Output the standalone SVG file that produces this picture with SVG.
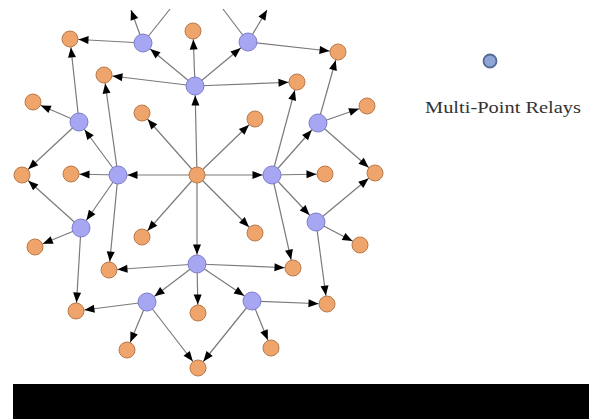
<svg xmlns="http://www.w3.org/2000/svg" width="589" height="419" viewBox="0 0 589 419">
<style>
.e{stroke:#7a7a7a;stroke-width:1.2;fill:none}
.to{marker-end:url(#aO)}
.tb{marker-end:url(#aB)}
.tx{marker-end:url(#aX)}
.o{fill:#efa46c;stroke:#b97a4c;stroke-width:1}
.b{fill:#a6a6f2;stroke:#7d7dcc;stroke-width:1}
.lg{font-family:"Liberation Serif","Times New Roman",serif;font-size:17px;fill:#333}
</style>
<defs>
<marker id="aO" markerUnits="userSpaceOnUse" markerWidth="20" markerHeight="20" refX="8.5" refY="0" orient="auto" overflow="visible"><path d="M0,0 L-10,-4 L-10,4 Z" fill="#000"/></marker>
<marker id="aB" markerUnits="userSpaceOnUse" markerWidth="20" markerHeight="20" refX="9.5" refY="0" orient="auto" overflow="visible"><path d="M0,0 L-10,-4 L-10,4 Z" fill="#000"/></marker>
<marker id="aX" markerUnits="userSpaceOnUse" markerWidth="20" markerHeight="20" refX="0" refY="0" orient="auto" overflow="visible"><path d="M0,0 L-10,-4 L-10,4 Z" fill="#000"/></marker>
</defs>
<rect width="589" height="419" fill="#fff"/>
<g id="connectors">
<line class="e tb" x1="197" y1="175" x2="195" y2="86"/>
<line class="e tb" x1="197" y1="175" x2="118" y2="175"/>
<line class="e tb" x1="197" y1="175" x2="272" y2="175"/>
<line class="e tb" x1="197" y1="175" x2="197" y2="264"/>
<line class="e to" x1="197" y1="175" x2="142" y2="113"/>
<line class="e to" x1="197" y1="175" x2="255" y2="119"/>
<line class="e to" x1="197" y1="175" x2="142" y2="237"/>
<line class="e to" x1="197" y1="175" x2="255" y2="233"/>
<line class="e to" x1="195" y1="86" x2="193" y2="31"/>
<line class="e tb" x1="195" y1="86" x2="143" y2="43"/>
<line class="e tb" x1="195" y1="86" x2="248" y2="42"/>
<line class="e to" x1="195" y1="86" x2="104" y2="75"/>
<line class="e to" x1="195" y1="86" x2="297" y2="82"/>
<line class="e to" x1="143" y1="43" x2="70" y2="39"/>
<line class="e tx" x1="143" y1="43" x2="131" y2="10"/>
<line class="e" x1="170" y1="9" x2="143" y2="43"/>
<line class="e to" x1="248" y1="42" x2="338" y2="52"/>
<line class="e tx" x1="248" y1="42" x2="267" y2="10"/>
<line class="e" x1="223" y1="9" x2="248" y2="42"/>
<line class="e to" x1="79" y1="122" x2="70" y2="39"/>
<line class="e to" x1="79" y1="122" x2="33" y2="102"/>
<line class="e to" x1="79" y1="122" x2="22" y2="175"/>
<line class="e tb" x1="118" y1="175" x2="79" y2="122"/>
<line class="e to" x1="118" y1="175" x2="104" y2="75"/>
<line class="e to" x1="118" y1="175" x2="71" y2="174"/>
<line class="e tb" x1="118" y1="175" x2="81" y2="228"/>
<line class="e to" x1="118" y1="175" x2="109" y2="270"/>
<line class="e to" x1="81" y1="228" x2="22" y2="175"/>
<line class="e to" x1="81" y1="228" x2="35" y2="247"/>
<line class="e to" x1="81" y1="228" x2="76" y2="311"/>
<line class="e to" x1="197" y1="264" x2="109" y2="270"/>
<line class="e to" x1="197" y1="264" x2="198" y2="313"/>
<line class="e tb" x1="197" y1="264" x2="147" y2="302"/>
<line class="e tb" x1="197" y1="264" x2="252" y2="301"/>
<line class="e to" x1="197" y1="264" x2="293" y2="268"/>
<line class="e to" x1="147" y1="302" x2="76" y2="311"/>
<line class="e to" x1="147" y1="302" x2="127" y2="350"/>
<line class="e to" x1="147" y1="302" x2="198" y2="368"/>
<line class="e to" x1="252" y1="301" x2="327" y2="304"/>
<line class="e to" x1="252" y1="301" x2="271" y2="348"/>
<line class="e to" x1="252" y1="301" x2="198" y2="368"/>
<line class="e to" x1="272" y1="175" x2="325" y2="174"/>
<line class="e tb" x1="272" y1="175" x2="318" y2="123"/>
<line class="e to" x1="272" y1="175" x2="297" y2="82"/>
<line class="e tb" x1="272" y1="175" x2="316" y2="222"/>
<line class="e to" x1="272" y1="175" x2="293" y2="268"/>
<line class="e to" x1="318" y1="123" x2="338" y2="52"/>
<line class="e to" x1="318" y1="123" x2="367" y2="106"/>
<line class="e to" x1="318" y1="123" x2="375" y2="173"/>
<line class="e to" x1="316" y1="222" x2="375" y2="173"/>
<line class="e to" x1="316" y1="222" x2="360" y2="245"/>
<line class="e to" x1="316" y1="222" x2="327" y2="304"/>
</g>
<g id="C"><circle class="o" cx="197" cy="175" r="8"/></g>
<g id="B1"><circle class="b" cx="143" cy="43" r="9"/></g>
<g id="B2"><circle class="b" cx="248" cy="42" r="9"/></g>
<g id="B3"><circle class="b" cx="195" cy="86" r="9"/></g>
<g id="B4"><circle class="b" cx="79" cy="122" r="9"/></g>
<g id="B5"><circle class="b" cx="318" cy="123" r="9"/></g>
<g id="B6"><circle class="b" cx="118" cy="175" r="9"/></g>
<g id="B7"><circle class="b" cx="272" cy="175" r="9"/></g>
<g id="B8"><circle class="b" cx="81" cy="228" r="9"/></g>
<g id="B9"><circle class="b" cx="316" cy="222" r="9"/></g>
<g id="B10"><circle class="b" cx="197" cy="264" r="9"/></g>
<g id="B11"><circle class="b" cx="147" cy="302" r="9"/></g>
<g id="B12"><circle class="b" cx="252" cy="301" r="9"/></g>
<g id="O1"><circle class="o" cx="70" cy="39" r="8"/></g>
<g id="O2"><circle class="o" cx="193" cy="31" r="8"/></g>
<g id="O3"><circle class="o" cx="338" cy="52" r="8"/></g>
<g id="O4"><circle class="o" cx="104" cy="75" r="8"/></g>
<g id="O5"><circle class="o" cx="297" cy="82" r="8"/></g>
<g id="O6"><circle class="o" cx="33" cy="102" r="8"/></g>
<g id="O7"><circle class="o" cx="142" cy="113" r="8"/></g>
<g id="O8"><circle class="o" cx="255" cy="119" r="8"/></g>
<g id="O9"><circle class="o" cx="367" cy="106" r="8"/></g>
<g id="O10"><circle class="o" cx="22" cy="175" r="8"/></g>
<g id="O11"><circle class="o" cx="71" cy="174" r="8"/></g>
<g id="O12"><circle class="o" cx="325" cy="174" r="8"/></g>
<g id="O13"><circle class="o" cx="375" cy="173" r="8"/></g>
<g id="O14"><circle class="o" cx="35" cy="247" r="8"/></g>
<g id="O15"><circle class="o" cx="142" cy="237" r="8"/></g>
<g id="O16"><circle class="o" cx="255" cy="233" r="8"/></g>
<g id="O17"><circle class="o" cx="360" cy="245" r="8"/></g>
<g id="O18"><circle class="o" cx="109" cy="270" r="8"/></g>
<g id="O19"><circle class="o" cx="293" cy="268" r="8"/></g>
<g id="O20"><circle class="o" cx="76" cy="311" r="8"/></g>
<g id="O21"><circle class="o" cx="198" cy="313" r="8"/></g>
<g id="O22"><circle class="o" cx="327" cy="304" r="8"/></g>
<g id="O23"><circle class="o" cx="127" cy="350" r="8"/></g>
<g id="O24"><circle class="o" cx="271" cy="348" r="8"/></g>
<g id="O25"><circle class="o" cx="198" cy="368" r="8"/></g>
<g id="legend">
<circle cx="490" cy="61" r="6.5" fill="#8ea6d6" stroke="#566b94" stroke-width="1.8"/>
<text class="lg" x="425" y="113" textLength="156" lengthAdjust="spacingAndGlyphs">Multi-Point Relays</text>
</g>
<rect x="13" y="384" width="576" height="35" fill="#000"/>
</svg>
